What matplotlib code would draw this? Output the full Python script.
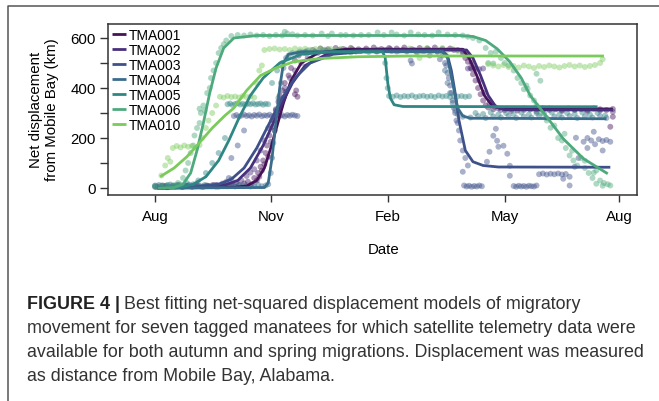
import matplotlib
matplotlib.use("Agg")
import matplotlib.pyplot as plt
from matplotlib.lines import Line2D

plt.rcParams['font.family'] = ['Liberation Sans', 'DejaVu Sans']

# x values are days since 1 Aug, y values are km from Mobile Bay
month_ticks = [0, 91, 183, 275, 365]
month_labels = ['Aug', 'Nov', 'Feb', 'May', 'Aug']

tags = ['TMA001', 'TMA002', 'TMA003', 'TMA004', 'TMA005', 'TMA006', 'TMA010']
colors = ['#46125a', '#47307d', '#3f518a', '#3a6c8c', '#2f8784', '#4daa7c', '#7acb5c']

# fitted NSD model curves
fit_tma001 = [(2, 0), (60, 2), (72, 8), (80, 30), (86, 80), (91, 160), (96, 250), (101, 340),
              (107, 430), (115, 500), (128, 540), (150, 555), (242, 555), (247, 520), (253, 450),
              (259, 370), (265, 330), (272, 318), (360, 316)]
fit_tma002 = [(2, 0), (40, 3), (55, 12), (65, 30), (75, 80), (85, 170), (93, 260), (100, 340),
              (108, 420), (118, 490), (135, 535), (160, 552), (245, 552), (250, 520), (256, 450),
              (262, 370), (268, 325), (275, 313), (360, 312)]
fit_tma003 = [(2, 0), (30, 3), (50, 15), (60, 35), (70, 80), (80, 160), (90, 260), (100, 360),
              (110, 440), (122, 500), (140, 535), (170, 548), (226, 548), (230, 530), (233, 470),
              (236, 380), (239, 270), (244, 150), (250, 105), (258, 90), (270, 84), (358, 83)]
fit_tma004 = [(2, 0), (86, 2), (89, 20), (92, 120), (95, 260), (98, 400), (101, 500), (105, 535),
              (115, 545), (226, 545), (230, 520), (234, 420), (238, 320), (242, 288), (248, 279),
              (355, 277)]
fit_tma005 = [(2, 0), (20, 3), (30, 15), (40, 45), (50, 110), (58, 190), (66, 280), (75, 370),
              (85, 440), (98, 500), (115, 535), (140, 545), (179, 545), (181, 520), (183, 420),
              (185, 360), (188, 333), (195, 326), (348, 325)]
fit_tma006 = [(2, 0), (15, 2), (22, 15), (28, 60), (33, 150), (38, 260), (43, 380), (48, 480),
              (54, 560), (62, 600), (80, 610), (240, 610), (250, 606), (260, 590), (269, 557),
              (279, 505), (288, 440), (295, 370), (308, 285), (321, 197), (337, 117), (356, 57)]
fit_tma010 = [(4, 45), (15, 80), (25, 125), (33, 170), (45, 240), (55, 290), (62, 320), (72, 390),
              (83, 450), (95, 480), (109, 505), (130, 518), (160, 525), (200, 528), (353, 528)]

# telemetry locations
pts_tma001 = [(2, 6), (6, 10), (10, 4), (14, 8), (18, 12), (22, 5), (26, 9), (30, 7), (34, 11),
              (38, 5), (42, 8), (46, 12), (50, 6), (54, 9), (58, 14), (62, 8), (66, 12), (70, 18),
              (73, 25), (76, 15), (78, 40), (80, 30), (81, 60), (82, 45), (83, 85), (84, 70),
              (85, 110), (86, 95), (87, 140), (88, 170), (89, 125), (90, 210), (91, 185), (92, 245),
              (93, 270), (94, 230), (95, 315), (96, 290), (97, 345), (98, 370), (99, 330), (100, 390),
              (101, 360), (102, 420), (103, 385), (105, 450), (107, 480), (110, 375), (111, 390),
              (112, 365), (110, 510), (113, 530), (118, 545), (124, 552), (130, 558), (136, 555),
              (142, 560), (148, 556), (154, 560), (160, 555), (166, 558), (172, 562), (178, 556),
              (184, 560), (190, 558), (196, 562), (202, 555), (208, 560), (214, 558), (220, 562),
              (226, 556), (232, 558), (238, 552), (242, 540), (244, 520), (246, 505), (248, 480),
              (249, 500), (250, 455), (252, 430), (254, 400), (256, 375), (258, 350), (260, 330),
              (262, 322), (266, 315), (270, 318), (275, 312), (280, 316), (285, 310), (290, 318),
              (295, 314), (300, 316), (305, 312), (310, 318), (315, 315), (320, 312), (325, 318),
              (330, 314), (335, 316), (340, 312), (345, 318), (350, 315), (355, 312), (360, 316),
              (360, 285), (358, 245)]
pts_tma002 = [(0, 5), (8, 8), (16, 6), (24, 10), (32, 7), (40, 9), (48, 12), (56, 8), (60, 15),
              (64, 22), (68, 30), (72, 48), (75, 62), (78, 75), (80, 110), (83, 150), (86, 190),
              (89, 240), (92, 270), (95, 310), (98, 350), (102, 400), (106, 440), (110, 470),
              (115, 500), (120, 520), (128, 540), (135, 548), (145, 552), (155, 555), (165, 550),
              (175, 553), (185, 556), (195, 552), (205, 548), (215, 554), (225, 550), (235, 552),
              (242, 548), (246, 478), (249, 476), (252, 478), (255, 475), (258, 478), (247, 525),
              (251, 480), (255, 430), (259, 380), (263, 340), (267, 325), (272, 312), (280, 308),
              (290, 312), (300, 306), (310, 312), (320, 308), (330, 312), (340, 306), (350, 310),
              (360, 305)]
pts_tma003 = [(1, 4), (5, 8), (9, 3), (13, 7), (17, 10), (21, 5), (25, 8), (29, 4), (33, 9),
              (37, 6), (41, 10), (45, 7), (49, 12), (53, 18), (56, 25), (58, 40), (60, 35),
              (60, 120), (65, 170), (70, 230), (62, 288), (64, 292), (66, 285), (68, 290), (70, 294),
              (72, 288), (74, 291), (76, 286), (78, 292), (80, 289), (82, 294), (84, 287), (86, 291),
              (88, 289), (90, 293), (92, 287), (94, 290), (96, 292), (98, 288), (100, 291),
              (102, 286), (104, 292), (106, 289), (108, 293), (110, 290), (112, 288), (118, 540),
              (126, 546), (134, 550), (142, 548), (150, 552), (158, 546), (166, 550), (174, 548),
              (182, 552), (190, 546), (198, 550), (201, 510), (202, 498), (216, 530), (224, 515),
              (206, 544), (212, 548), (222, 545), (226, 530), (228, 500), (229, 490), (230, 460),
              (231, 440), (232, 410), (233, 380), (234, 350), (235, 320), (236, 300), (237, 270),
              (238, 260), (239, 230), (240, 190), (242, 150), (244, 120), (246, 90), (242, 65),
              (243, 10), (245, 6), (247, 9), (249, 5), (251, 8), (253, 6), (255, 10), (257, 7),
              (261, 105), (263, 145), (266, 209), (268, 237), (269, 189), (270, 165), (274, 169),
              (277, 137), (279, 89), (279, 49), (282, 8), (284, 5), (286, 9), (288, 6), (290, 8),
              (292, 5), (294, 9), (296, 7), (298, 6), (300, 10), (302, 55), (305, 58), (308, 54),
              (311, 57), (314, 55), (317, 58), (320, 54), (323, 56), (321, 37), (326, 10),
              (326, 45), (330, 85), (333, 120), (331, 201), (337, 185), (340, 200), (343, 190),
              (346, 175), (349, 195), (352, 188), (355, 192), (358, 185), (345, 225), (340, 160),
              (352, 150)]
pts_tma004 = [(0, 8), (3, 12), (6, 6), (9, 10), (12, 14), (15, 7), (18, 11), (21, 5), (24, 9),
              (27, 13), (30, 7), (33, 10), (36, 6), (39, 12), (42, 8), (45, 11), (48, 5), (51, 9),
              (54, 13), (57, 7), (60, 10), (63, 6), (66, 12), (69, 8), (72, 11), (75, 6), (78, 9),
              (81, 13), (84, 7), (87, 10), (89, 15), (91, 60), (92, 120), (93, 180), (94, 230),
              (96, 300), (97, 360), (99, 420), (101, 480), (103, 520), (108, 540), (114, 546),
              (120, 550), (126, 546), (132, 552), (138, 548), (144, 550), (150, 546), (156, 552),
              (162, 548), (168, 550), (174, 546), (180, 552), (186, 548), (192, 550), (198, 546),
              (204, 552), (210, 548), (216, 550), (222, 546), (228, 470), (230, 420), (232, 380),
              (234, 340), (236, 310), (238, 295), (242, 285), (248, 282), (254, 288), (260, 280),
              (266, 286), (272, 282), (278, 288), (284, 280), (290, 286), (296, 282), (302, 288),
              (308, 280), (314, 286), (320, 282), (326, 288), (332, 280), (338, 286), (344, 282),
              (350, 288), (355, 280)]
pts_tma005 = [(0, 10), (5, 6), (10, 12), (15, 8), (20, 14), (25, 20), (30, 15), (34, 30),
              (40, 60), (45, 100), (50, 140), (55, 200), (57, 335), (59, 338), (61, 332), (63, 336),
              (65, 339), (67, 334), (69, 337), (71, 333), (73, 338), (75, 335), (77, 339), (79, 334),
              (81, 336), (83, 338), (85, 333), (87, 337), (89, 335), (92, 420), (96, 470),
              (100, 500), (105, 530), (112, 540), (119, 545), (126, 542), (133, 548), (140, 544),
              (147, 546), (154, 542), (161, 548), (168, 544), (175, 546), (181, 500), (182, 440),
              (183, 400), (184, 368), (187, 365), (190, 370), (193, 364), (196, 368), (199, 366),
              (202, 370), (205, 364), (208, 367), (211, 369), (214, 365), (217, 368), (220, 364),
              (223, 370), (226, 366), (229, 368), (232, 364), (235, 369), (238, 366), (241, 368),
              (244, 365), (247, 367), (252, 300), (258, 296), (264, 302), (270, 294), (276, 300),
              (282, 296), (288, 302), (294, 294), (300, 300), (306, 296), (312, 302), (318, 294),
              (324, 300), (330, 296), (336, 302), (342, 294), (348, 300), (354, 290)]
pts_tma006 = [(0, 5), (5, 10), (10, 6), (15, 12), (18, 20), (22, 40), (24, 70), (26, 100),
              (28, 140), (30, 170), (31, 210), (33, 240), (35, 260), (35, 317), (36, 300), (38, 330),
              (39, 310), (41, 380), (43, 400), (44, 440), (46, 470), (48, 500), (50, 540), (52, 560),
              (54, 575), (56, 590), (60, 608), (65, 612), (70, 610), (75, 614), (80, 610), (85, 612),
              (90, 608), (95, 612), (100, 610), (102, 625), (104, 618), (108, 615), (112, 610),
              (118, 612), (124, 610), (131, 618), (136, 608), (139, 618), (146, 612), (150, 612),
              (156, 610), (162, 612), (168, 612), (175, 622), (180, 612), (186, 622), (190, 614),
              (196, 610), (201, 622), (207, 614), (212, 612), (218, 610), (223, 622), (230, 614),
              (236, 612), (242, 610), (246, 605), (250, 600), (255, 590), (260, 560), (264, 540),
              (262, 500), (266, 498), (268, 545), (272, 520), (275, 500), (278, 490), (282, 470),
              (285, 440), (288, 420), (290, 395), (293, 397), (292, 410), (295, 370), (298, 350),
              (300, 457), (303, 429), (300, 330), (303, 300), (305, 320), (308, 270), (311, 241),
              (314, 250), (317, 200), (322, 217), (320, 190), (323, 160), (328, 149), (326, 130),
              (329, 110), (332, 90), (338, 109), (335, 120), (338, 80), (341, 60), (345, 61),
              (344, 40), (347, 17), (347, 70), (350, 30), (352, 9), (353, 20), (356, 15), (358, 10)]
pts_tma010 = [(5, 50), (8, 90), (10, 120), (12, 105), (14, 160), (17, 168), (20, 162), (23, 170),
              (26, 165), (29, 168), (32, 160), (35, 172), (37, 200), (40, 240), (42, 270), (45, 300),
              (48, 330), (51, 365), (54, 362), (57, 368), (60, 364), (63, 366), (66, 362), (69, 368),
              (72, 364), (75, 366), (78, 362), (80, 420), (82, 470), (84, 490), (86, 552), (90, 556),
              (94, 558), (98, 554), (102, 556), (106, 552), (110, 558), (114, 555), (118, 557),
              (122, 553), (126, 556), (130, 558), (134, 554), (138, 556), (142, 552), (146, 557),
              (150, 554), (154, 556), (200, 558), (203, 552), (206, 540), (208, 520), (210, 555),
              (214, 560), (218, 548), (222, 555), (226, 560), (230, 552), (234, 556), (238, 548),
              (262, 495), (266, 490), (270, 486), (274, 492), (278, 484), (282, 488), (286, 482),
              (290, 490), (294, 486), (298, 480), (302, 488), (306, 484), (310, 490), (314, 486),
              (318, 482), (322, 488), (326, 492), (330, 486), (334, 490), (338, 484), (342, 488),
              (346, 492), (350, 500), (352, 515)]

fits = [fit_tma001, fit_tma002, fit_tma003, fit_tma004, fit_tma005, fit_tma006, fit_tma010]
points = [pts_tma001, pts_tma002, pts_tma003, pts_tma004, pts_tma005, pts_tma006, pts_tma010]

fig = plt.figure(figsize=(6.59, 4.02), dpi=100)
ax = fig.add_axes([108 / 659, 1 - 196 / 402, 529 / 659, 171 / 402])

# points first, model lines on top
for pts, col in zip(points, colors):
    ax.scatter([p[0] for p in pts], [p[1] for p in pts], s=18, color=col, alpha=0.45,
               edgecolors='none', zorder=2)
for fit, col, tag in zip(fits, colors, tags):
    ax.plot([p[0] for p in fit], [p[1] for p in fit], color=col, lw=2.0, label=tag,
            solid_capstyle='butt', zorder=3)

ax.set_xlim(-37, 379)
ax.set_ylim(-28, 656)
ax.set_xticks(month_ticks, month_labels)
ax.set_yticks([0, 200, 400, 600])
ax.set_yticks([100, 300, 500], minor=True)
ax.tick_params(axis='y', which='both', length=6, width=1, pad=3, labelsize=10.8, color='#333333')
ax.tick_params(axis='x', length=5, width=1, pad=5, labelsize=10.8, color='#333333')
for sp in ax.spines.values():
    sp.set_color('#333333')
    sp.set_linewidth(1.1)

ax.legend(loc='upper left', frameon=False, fontsize=10, handlelength=1.0, handletextpad=0.2,
          labelspacing=0.07, borderaxespad=0.1, borderpad=0.2)

fig.text(44 / 659, 1 - 110 / 402, 'Net displacement\nfrom Mobile Bay (km)', rotation=90,
         ha='center', va='center', fontsize=10.8, linespacing=1.1, multialignment='center')
fig.text(384 / 659, 1 - 250 / 402, 'Date', ha='center', va='center', fontsize=10.8)

# page frame
fig.add_artist(Line2D([8 / 659, 8 / 659, 1.0], [0.0, 1 - 7 / 402, 1 - 7 / 402],
                      transform=fig.transFigure, color='#555555', lw=1.1))

# caption
cap_size = 12.85
cap_col = '#333333'
t = fig.text(27 / 659, 1 - 309 / 402, 'FIGURE 4 |', fontsize=cap_size, fontweight='bold',
             color='#222222', va='baseline')
fig.canvas.draw()
bb = t.get_window_extent()
fig.text((bb.x1 + 4) / 659, 1 - 309 / 402,
         'Best fitting net-squared displacement models of migratory',
         fontsize=cap_size, color=cap_col, va='baseline')
cap_lines = ['movement for seven tagged manatees for which satellite telemetry data were',
             'available for both autumn and spring migrations. Displacement was measured',
             'as distance from Mobile Bay, Alabama.']
for i, line in enumerate(cap_lines):
    fig.text(27 / 659, 1 - (333 + 24 * i) / 402, line, fontsize=cap_size, color=cap_col,
             va='baseline')

fig.savefig('out.png', dpi=100)
